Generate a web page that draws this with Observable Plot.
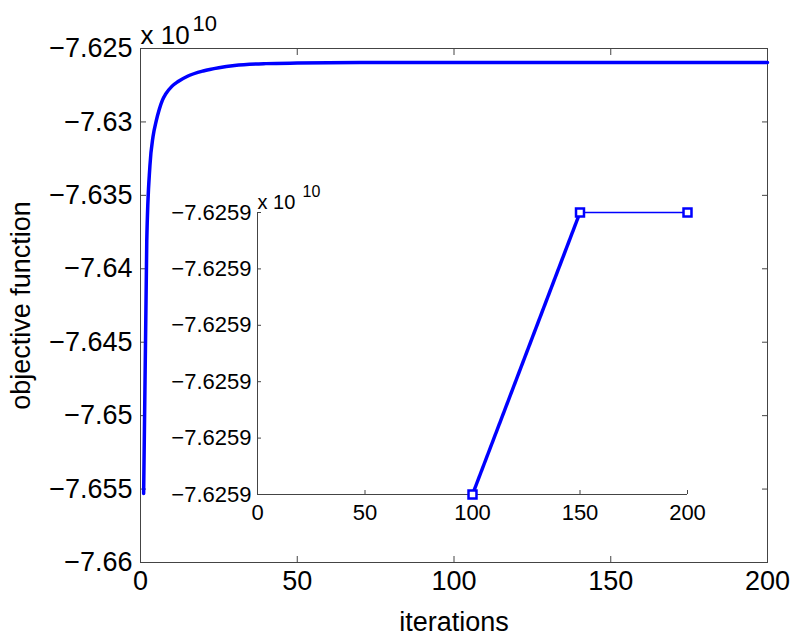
<!DOCTYPE html>
<html><head><meta charset="utf-8">
<script src="https://cdn.jsdelivr.net/npm/d3@7"></script>
<script src="https://cdn.jsdelivr.net/npm/@observablehq/plot@0.6"></script>
<style>
html,body{margin:0;padding:0;background:#fff;}
#wrap{position:relative;width:800px;height:641px;}
#wrap svg{position:absolute;left:0;top:0;}
</style></head><body><div id="wrap"></div>
<script>
// main curve: objective function (x 10^10) vs iterations
const iterations = [1, 2, 3, 4, 5, 6, 7, 8, 10, 12, 15, 20, 25, 30, 40, 50, 70, 100, 150, 200];
const objective = [-7.6553, -7.6381, -7.6330, -7.6310, -7.62995, -7.62914, -7.62851, -7.62811, -7.62758, -7.62725,
  -7.62689, -7.62653, -7.62631, -7.62616, -7.62603, -7.62599, -7.62596, -7.62595, -7.62595, -7.62595];
const xTicks = [0, 50, 100, 150, 200];
const yTicks = [-7.66, -7.655, -7.65, -7.645, -7.64, -7.635, -7.63, -7.625];

// inset: zoom on iterations 100, 150, 200
const insetIter = [100, 150, 200];
const insetValue = [-7.6259014, -7.6258986, -7.6258986];
const insetXTicks = [0, 50, 100, 150, 200];
const insetYTicks = [-7.6259014, -7.62590084, -7.62590028, -7.62589972, -7.62589916, -7.6258986];

const exponentBase = "x 10";
const exponentPower = "10";
const xLabel = "iterations";
const yLabel = "objective function";

const font = "'Liberation Sans', Arial, Helvetica, sans-serif";
const blue = "#0000ff";
const axisColor = "#444";

const curve = iterations.map((x, i) => ({x, y: objective[i]}));

const main = Plot.plot({
  width: 800, height: 641,
  marginLeft: 140, marginRight: 33, marginTop: 48, marginBottom: 79,
  style: {fontFamily: font, fontSize: "27px", color: "#000", background: "transparent", overflow: "visible"},
  x: {domain: [0, 200]},
  y: {domain: [-7.66, -7.625]},
  marks: [
    Plot.frame({stroke: axisColor}),
    Plot.axisX(xTicks, {anchor: "bottom", tickSize: -6, tickPadding: 14, stroke: axisColor, fill: "#000",
      label: xLabel, labelAnchor: "center", labelOffset: 68, labelArrow: "none"}),
    Plot.axisX(xTicks, {anchor: "top", tickSize: -6, stroke: axisColor, fill: "none", label: null}),
    Plot.axisY(yTicks, {anchor: "left", tickSize: -6, tickPadding: 14, stroke: axisColor, fill: "#000",
      tickFormat: d3.format(".4~g"),
      label: yLabel, labelAnchor: "center", labelOffset: 130, labelArrow: "none"}),
    Plot.axisY(yTicks, {anchor: "right", tickSize: -6, stroke: axisColor, fill: "none", label: null}),
    Plot.line(curve, {x: "x", y: "y", stroke: blue, strokeWidth: 3.5, curve: "monotone-x"}),
    Plot.text([exponentBase], {text: d => d, frameAnchor: "top-left", textAnchor: "start", lineAnchor: "bottom", dy: -5, fontSize: 26}),
    Plot.text([exponentPower], {text: d => d, frameAnchor: "top-left", textAnchor: "start", lineAnchor: "bottom", dx: 52, dy: -18, fontSize: 22})
  ]
});

const insetPoints = insetIter.map((x, i) => ({x, y: insetValue[i]}));
const insetSegments = insetIter.slice(1).map((x, i) => ({x1: insetIter[i], y1: insetValue[i], x2: x, y2: insetValue[i + 1], seg: i}));

const inset = Plot.plot({
  width: 800, height: 641,
  marginLeft: 257, marginRight: 113, marginTop: 212, marginBottom: 147,
  style: {fontFamily: font, fontSize: "22px", color: "#000", background: "transparent", overflow: "visible"},
  x: {domain: [0, 200]},
  y: {domain: [insetYTicks[0], insetYTicks[insetYTicks.length - 1]]},
  marks: [
    Plot.ruleX([insetXTicks[0]], {stroke: axisColor}),
    Plot.ruleY([insetYTicks[0]], {stroke: axisColor}),
    Plot.axisX(insetXTicks, {anchor: "bottom", tickSize: -4, tickPadding: 14, stroke: axisColor, fill: "#000", label: null}),
    Plot.axisY(insetYTicks, {anchor: "left", tickSize: -4, tickPadding: 10, stroke: axisColor, fill: "#000",
      tickFormat: d3.format(".5~g"), label: null}),
    Plot.link(insetSegments, {x1: "x1", y1: "y1", x2: "x2", y2: "y2", stroke: blue,
      strokeWidth: d => d.seg === 0 ? 3.5 : 1.5}),
    Plot.dot(insetPoints, {x: "x", y: "y", symbol: "square", r: 4.5, stroke: blue, strokeWidth: 2.5, fill: "white"}),
    Plot.text([exponentBase], {text: d => d, frameAnchor: "top-left", textAnchor: "start", lineAnchor: "bottom", dy: -4, fontSize: 20}),
    Plot.text([exponentPower], {text: d => d, frameAnchor: "top-left", textAnchor: "start", lineAnchor: "bottom", dx: 45, dy: -16, fontSize: 16})
  ]
});

const wrap = document.getElementById("wrap");
wrap.appendChild(main);
wrap.appendChild(inset);
</script></body></html>
